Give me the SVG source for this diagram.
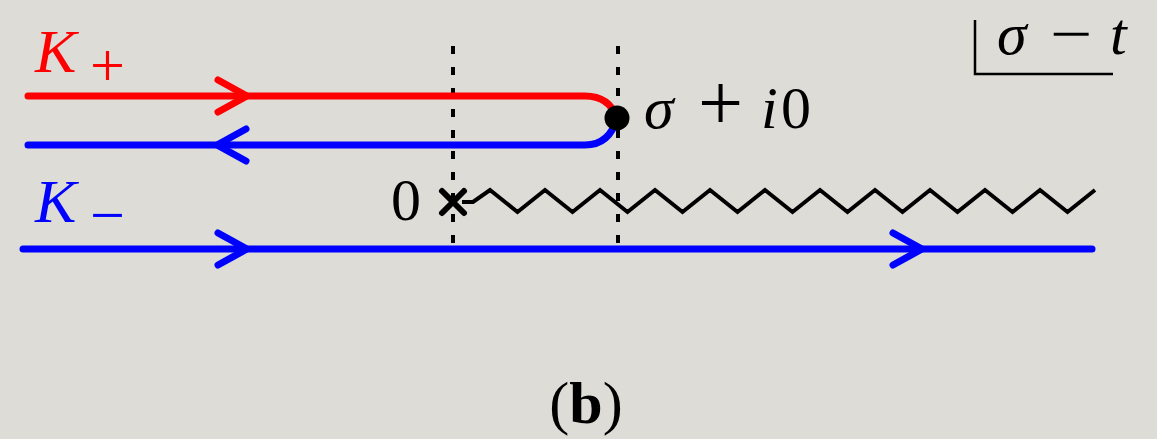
<svg xmlns="http://www.w3.org/2000/svg" width="1157" height="439" viewBox="0 0 1157 439">
<style>
.ln{fill:none;stroke-width:7;stroke-linecap:round;stroke-linejoin:round}
.red{stroke:#ff0000}
.blue{stroke:#0000ff}
.blk{fill:none;stroke:#000;stroke-linejoin:miter}
.dot{fill:none;stroke:#000;stroke-width:4;stroke-dasharray:8 13}
.m{font-family:"Liberation Serif",serif;font-size:60px}
.it{font-style:italic}
.op{font-size:80px}
.sub{font-size:62px}
</style>
<rect width="1157" height="439" fill="#dddcd7"/>
<g id="guides">
<line class="dot" x1="453" y1="46" x2="453" y2="250"/>
<line class="dot" x1="618" y1="46" x2="618" y2="250"/>
</g>
<g id="branch-cut">
<polyline class="blk" stroke-width="4" points="462,202 473,202 490,190 517.5,212 545,190 572.5,212 600,190 627.5,212 655,190 682.5,212 710,190 737.5,212 765,190 792.5,212 820,190 847.5,212 875,190 902.5,212 930,190 957.5,212 985,190 1012.5,212 1040,190 1067.5,212 1095,190"/>
</g>
<g id="connectors">
<path class="ln red" d="M28,96 H585 C602,96 612,104 617,118"/>
<path class="ln blue" d="M28,145 H585 C602,145 612,136 617,118"/>
<line class="ln blue" x1="23" y1="249" x2="1092" y2="249"/>
<polyline class="ln red" points="218,80 247,96 218,112"/>
<polyline class="ln blue" points="246,129 217,145 246,161"/>
<polyline class="ln blue" points="218,233 247,249 218,265"/>
<polyline class="ln blue" points="893,233 922,249 893,265"/>
</g>
<g id="origin">
<path d="M442,191 L464,213 M464,191 L442,213" stroke="#000" stroke-width="6" stroke-linecap="round"/>
<text class="m" x="391" y="220">0</text>
</g>
<g id="pole">
<circle cx="617" cy="118" r="12.5" fill="#000"/>
<text class="m"><tspan class="it" x="644" y="128">σ</tspan><tspan class="op" x="698" y="130">+</tspan><tspan class="it" x="761" y="128">i</tspan><tspan x="781" y="128">0</tspan></text>
</g>
<g id="k-plus">
<text class="m" fill="#ff0000"><tspan class="it sub" x="35" y="72">K</tspan><tspan class="sub" x="90" y="86">+</tspan></text>
</g>
<g id="k-minus">
<text class="m" fill="#0000ff"><tspan class="it sub" x="35" y="222">K</tspan><tspan class="sub" x="90" y="236">−</tspan></text>
</g>
<g id="sheet-label">
<polyline points="975,20 975,74 1113,74" fill="none" stroke="#000" stroke-width="2.5"/>
<text class="m" font-size="57px"><tspan class="it" x="997" y="54">σ</tspan><tspan class="it" x="1110" y="54">t</tspan></text>
<text class="m" font-size="57px" transform="translate(1050,54) scale(1.25,1)" x="0" y="0">−</text>
</g>
<g id="caption">
<text class="m" x="586" y="423" text-anchor="middle" font-size="64px">(<tspan font-weight="bold">b</tspan>)</text>
</g>
</svg>
